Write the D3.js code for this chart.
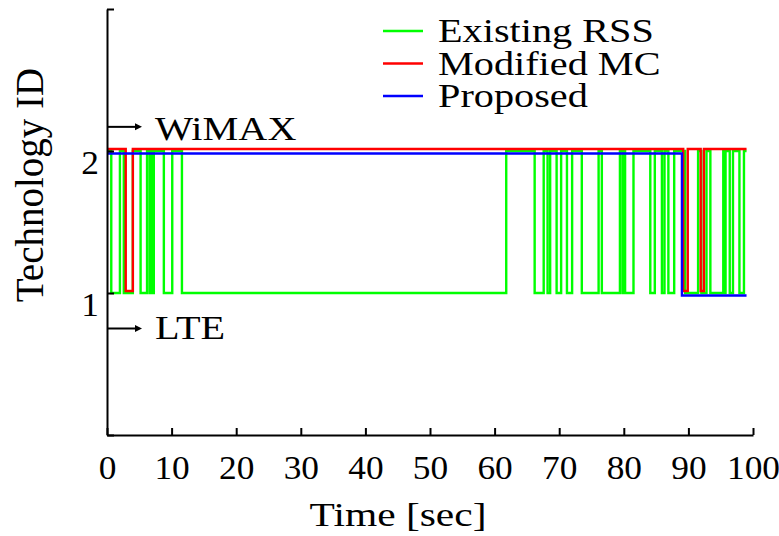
<!DOCTYPE html>
<html>
<head>
<meta charset="utf-8">
<script src="https://cdn.jsdelivr.net/npm/d3@7"></script>
<style>
  html, body { margin: 0; padding: 0; background: #fff; }
  svg { display: block; }
  svg text { font-family: "Liberation Serif", "Tinos", "Times New Roman", "DejaVu Serif", serif; }
</style>
</head>
<body>
<svg id="chart" width="779" height="536"></svg>
<script>
// ---- data ----
const timeTicks = [0, 10, 20, 30, 40, 50, 60, 70, 80, 90, 100];
const techTicks = [0, 1, 2, 3];
const techTickLabels = ["", "1", "2", ""];
const seriesNames = ["Existing RSS", "Modified MC", "Proposed"];
const technologyNames = ["WiMAX", "LTE"];

// switching instants [s] and the technology selected from that instant on
const rssTimes = [0, 0.66, 2.0, 2.6, 4.0, 5.2, 6.2, 6.6, 6.9, 7.05, 7.25, 8.8, 10.1, 11.6,
  61.8, 66.2, 67.6, 68.2, 68.6, 69.6, 70.3, 71.2, 72.0, 73.5, 76.1, 76.6, 79.4, 79.8,
  80.0, 80.2, 81.5, 84.1, 84.8, 85.9, 86.3, 86.9, 87.8, 89.5, 91.5, 92.0, 92.8, 93.4,
  95.4, 95.6, 95.75, 96.4, 96.9, 97.9, 98.6, 99.0];
const rssIds = [2, 1, 2, 1, 2, 1, 2, 1, 2, 1, 2, 1, 2, 1,
  2, 1, 2, 1, 2, 1, 2, 1, 2, 1, 2, 1, 2, 1,
  2, 1, 2, 1, 2, 1, 2, 1, 2, 1, 2, 1, 2, 1,
  2, 1, 2, 1, 2, 1, 2, 2];

const mcTimes = [0, 2.9, 4.0, 89.2, 89.9, 91.9, 92.4, 99.0];
const mcIds = [2, 1, 2, 1, 2, 1, 2, 2];

const proposedTimes = [0, 89.0, 99.0];
const proposedIds = [2, 1, 1];

// ---- drawing ----
const svg = d3.select("#chart");
const FONT = "\"Liberation Serif\", \"Tinos\", \"Times New Roman\", \"DejaVu Serif\", serif";
const FS = "33px";        // font size of horizontal texts
const STRETCH = 1.22;     // horizontal widening of horizontal texts
const TICK_STRETCH = 1.04;

const x = d3.scaleLinear().domain([0, 100]).range([107, 753]);
const y = d3.scaleLinear().domain([0, 3]).range([435, 9]);

const series = [
  { name: seriesNames[0], times: rssTimes, ids: rssIds, color: "#00ff00", shift: 0 },
  { name: seriesNames[1], times: mcTimes, ids: mcIds, color: "#ff0000", shift: -2 },
  { name: seriesNames[2], times: proposedTimes, ids: proposedIds, color: "#0000ff", shift: 2.5 }
];

const plot = svg.append("g");
series.forEach(s => {
  const pts = s.times.map((t, i) => [t, s.ids[i]]);
  const line = d3.line()
    .x(d => x(d[0]))
    .y(d => y(d[1]) + s.shift)
    .curve(d3.curveStepAfter);
  plot.append("path")
    .attr("d", line(pts))
    .attr("fill", "none")
    .attr("stroke", s.color)
    .attr("stroke-width", 2.4);
});

// axes
const xAxis = d3.axisBottom(x)
  .tickValues(timeTicks)
  .tickFormat(d3.format("d"))
  .tickSizeInner(-7)
  .tickSizeOuter(0);
const gx = svg.append("g").attr("transform", `translate(0,${y(0)})`).call(xAxis);

const yAxis = d3.axisLeft(y)
  .tickValues(techTicks)
  .tickFormat((d, i) => techTickLabels[i])
  .tickSizeInner(-7)
  .tickSizeOuter(0);
const gy = svg.append("g").attr("transform", `translate(${x(0)},0)`).call(yAxis);

[gx, gy].forEach(g => {
  g.attr("font-family", null).attr("font-size", null);
  g.select(".domain").attr("stroke", "#000").attr("stroke-width", 2);
  g.selectAll(".tick line").attr("stroke", "#000").attr("stroke-width", 2);
  g.selectAll(".tick text")
    .attr("fill", "#000")
    .style("font-family", FONT)
    .style("font-size", "34px");
});
gx.selectAll(".tick text")
  .attr("y", 44).attr("dy", 0)
  .attr("transform", `scale(${TICK_STRETCH},1)`);
gy.selectAll(".tick text")
  .attr("x", -8 / TICK_STRETCH).attr("y", 22).attr("dy", 0)
  .attr("transform", `scale(${TICK_STRETCH},1)`);

// axis titles
svg.append("text")
  .attr("transform", `translate(${(x(0) + x(100)) / 2 - 32},526) scale(${STRETCH},1)`)
  .attr("text-anchor", "middle")
  .style("font-family", FONT).style("font-size", "34px")
  .text("Time [sec]");

svg.append("text")
  .attr("transform", `translate(43,185) rotate(-90)`)
  .attr("text-anchor", "middle")
  .style("font-family", FONT).style("font-size", "39px")
  .text("Technology ID");

// technology markers on the y axis
const markers = [
  { label: technologyNames[0], level: 2.17, textDy: 13 },
  { label: technologyNames[1], level: 0.75, textDy: 10 }
];
markers.forEach(m => {
  const yy = y(m.level);
  svg.append("line")
    .attr("x1", x(0)).attr("x2", x(0) + 30)
    .attr("y1", yy).attr("y2", yy)
    .attr("stroke", "#000").attr("stroke-width", 2);
  svg.append("path")
    .attr("d", `M${x(0) + 28},${yy - 3.5} L${x(0) + 35},${yy} L${x(0) + 28},${yy + 3.5} Z`)
    .attr("fill", "#000");
  svg.append("text")
    .attr("transform", `translate(${x(0) + 48},${yy + m.textDy}) scale(${STRETCH},1)`)
    .style("font-family", FONT).style("font-size", FS)
    .text(m.label);
});

// legend
const legend = svg.append("g").attr("transform", "translate(383,31)");
series.forEach((s, i) => {
  const row = legend.append("g").attr("transform", `translate(0,${i * 32.5})`);
  row.append("line")
    .attr("x1", 0).attr("x2", 40)
    .attr("stroke", s.color).attr("stroke-width", 2.6);
  row.append("text")
    .attr("transform", `translate(55,11) scale(${STRETCH},1)`)
    .style("font-family", FONT).style("font-size", FS)
    .text(s.name);
});
</script>
</body>
</html>
